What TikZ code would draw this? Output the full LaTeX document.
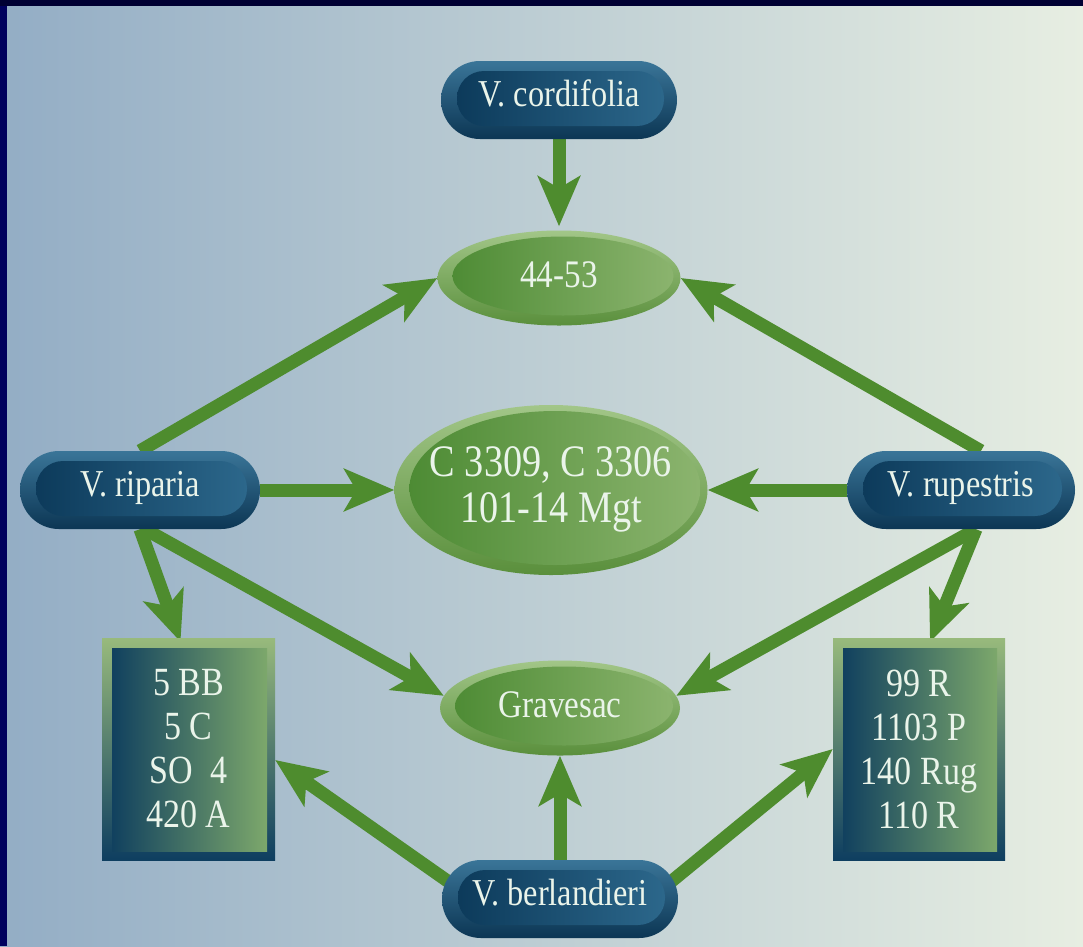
\documentclass[tikz,border=0pt]{standalone}
\usepackage{fontspec}
\setmainfont{Liberation Serif}[FakeStretch=0.85]
\usetikzlibrary{arrows.meta,calc,shapes.geometric}
\definecolor{bgL}{HTML}{93ADC5}
\definecolor{bgR}{HTML}{E7EEE2}
\definecolor{navyL}{HTML}{00005E}
\definecolor{navyT}{HTML}{000033}
\definecolor{pillTop}{HTML}{3A7598}
\definecolor{pillBot}{HTML}{0C3654}
\definecolor{pillInL}{HTML}{0A3757}
\definecolor{pillInR}{HTML}{2E6A8E}
\definecolor{ellTop}{HTML}{A2C688}
\definecolor{ellBot}{HTML}{5A8F3C}
\definecolor{ellInL}{HTML}{4A8931}
\definecolor{ellInR}{HTML}{8DB570}
\definecolor{boxTop}{HTML}{98BA7C}
\definecolor{boxBot}{HTML}{0E3E60}
\definecolor{boxInL}{HTML}{0A3A5E}
\definecolor{boxInR}{HTML}{82AD6C}
\definecolor{arrowC}{HTML}{4E8C2E}
\definecolor{txtC}{HTML}{EAF4EA}
\pgfdeclarelayer{bg}
\pgfdeclarelayer{arrlayer}
\pgfsetlayers{bg,arrlayer,main}
\begin{document}
\begin{tikzpicture}[x=1pt,y=-1pt,
  pill/.style={rectangle, minimum width=#1pt, minimum height=78pt,
    rounded corners=39pt, top color=pillTop, bottom color=pillBot, draw=none,
    text=txtC, font=\fontsize{38}{40}\selectfont, text height=27pt, text depth=14pt,
    path picture={\shade[left color=pillInL, right color=pillInR, rounded corners=27pt]
      ([shift={(16,10)}]path picture bounding box.north west) rectangle
      ([shift={(-13,-13)}]path picture bounding box.south east);}},
  gell/.style 2 args={ellipse, minimum width=#1pt, minimum height=#2pt, inner sep=0pt,
    top color=ellTop, bottom color=ellBot, draw=none, text=txtC,
    path picture={\shade[left color=ellInL, right color=ellInR]
      ([shift={(4,-2)}]path picture bounding box.center) ellipse
      [x radius={#1pt/2-11pt}, y radius={#2pt/2-8pt}];}},
  gbox/.style 2 args={rectangle, minimum width=#1pt, minimum height=#2pt,
    top color=boxTop, bottom color=boxBot, draw=none, text=txtC, align=center,
    font=\fontsize{40}{44}\selectfont,
    path picture={\shade[left color=boxInL, right color=boxInR]
      ([shift={(10,10)}]path picture bounding box.north west) rectangle
      ([shift={(-8,-9)}]path picture bounding box.south east);}},
  link/.style={draw=arrowC, line width=13pt, -{Stealth[length=50pt,width=42pt,inset=12pt]}}
]
\useasboundingbox (0,0) rectangle (1083,946);
\begin{pgfonlayer}{bg}
  \shade[left color=bgL, right color=bgR] (0,0) rectangle (1083,946);
  \fill[navyT] (0,0) rectangle (1083,6);
  \fill[navyL] (0,6) rectangle (7,946);
\end{pgfonlayer}

\node[pill=236] (cord) at (559,100) {V. cordifolia};
\node[pill=240] (rip) at (140,490) {V. riparia};
\node[pill=228] (rup) at (961,490) {V. rupestris};
\node[pill=236] (berl) at (560,899) {V. berlandieri};

\node[gell={243}{95}, font=\fontsize{39}{42}\selectfont, text height=25pt, text depth=7pt] (e1) at (559,278) {44-53};
\node[gell={313}{170}, font=\fontsize{45}{46}\selectfont] (mid) at (551,490)
  {\makebox[0pt]{\begin{tabular}{@{}c@{}}C 3309, C 3306\\101-14 Mgt\end{tabular}}};
\node[gell={240}{95}, font=\fontsize{39}{42}\selectfont, text height=25pt, text depth=7pt] (grav) at (560,708) {Gravesac};

\node[gbox={173}{222}] (boxL) at (188.5,749) {5 BB\\5 C\\SO\ \ 4\\420 A};
\node[gbox={172}{222}] (boxR) at (919,749) {99 R\\1103 P\\140 Rug\\110 R};

\begin{pgfonlayer}{arrlayer}
  \draw[link] (cord.south) -- ($(e1.north)+(0,-4)$);
  \draw[link] (rip.north) -- (e1.west);
  \draw[link] ($(rup.north)+(20,0)$) -- (e1.east);
  \draw[link] (rip.east) -- (mid.west);
  \draw[link] (rup.west) -- (mid.east);
  \draw[link] (rip.south) -- ($(boxL.north)+(-8,4)$);
  \draw[link] ($(rip.south)+(5,0)$) -- (grav.174);
  \draw[link] ($(rup.south)+(15,0)$) -- (grav.6);
  \draw[link] ($(rup.south)+(15,0)$) -- ($(boxR.north)+(11,4)$);
  \draw[link] ($(berl.west)+(10,-15)$) -- ($(boxL.east)+(0,11)$);
  \draw[link] (berl.north) -- (grav.south);
  \draw[link] ($(berl.east)+(-10,-15)$) -- (boxR.west);
\end{pgfonlayer}
\end{tikzpicture}
\end{document}
